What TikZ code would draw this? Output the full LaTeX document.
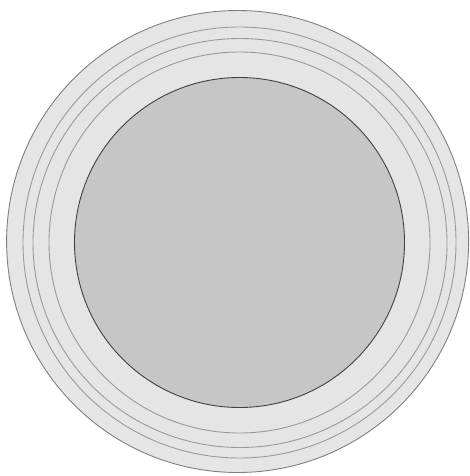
\documentclass[tikz,border=0pt]{standalone}
\definecolor{ringfill}{HTML}{E5E5E5}
\definecolor{corefill}{HTML}{C6C6C6}
\definecolor{ringline}{HTML}{9A9A9A}
\definecolor{outerline}{HTML}{808080}
\definecolor{coreline}{HTML}{404040}
\tikzset{
  ring/.style={draw=ringline, line width=0.9pt},
}
\begin{document}
\begin{tikzpicture}[x=1pt,y=-1pt]
\useasboundingbox (0,0) rectangle (470,476);
\fill[white] (0,0) rectangle (470,476);
\draw[fill=ringfill, draw=outerline, line width=0.9pt] (237.6,241.5) circle (231);
\draw[ring] (239.5,242.5) ellipse [x radius=216.5, y radius=215.5];
\draw[ring] (240,243) ellipse [x radius=207, y radius=204.5];
\draw[ring] (239.5,242.5) circle (190.5);
\draw[fill=corefill, draw=coreline, line width=0.9pt] (239.5,242.5) circle (165);
\end{tikzpicture}
\end{document}
